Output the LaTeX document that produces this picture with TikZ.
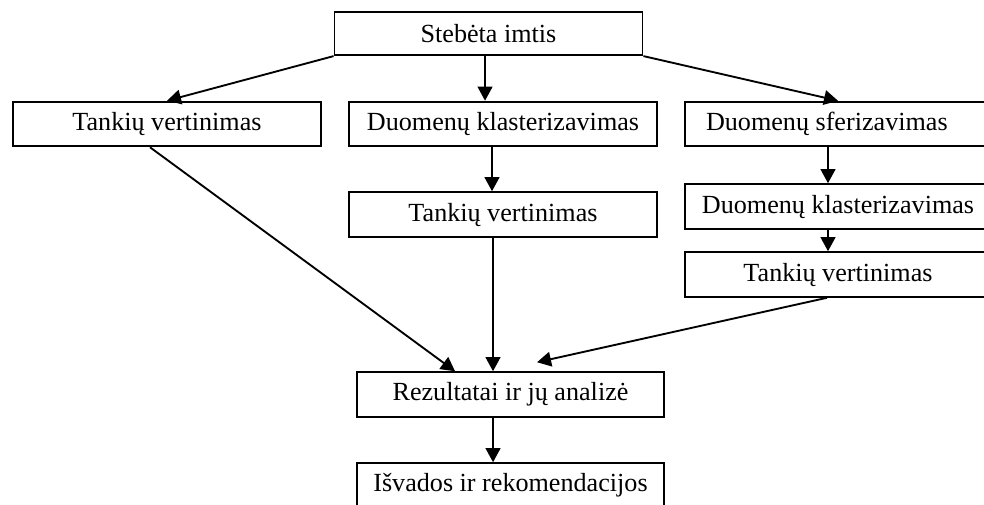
\documentclass[tikz,border=0pt]{standalone}
\usepackage{fontspec}
\setmainfont{Liberation Serif}
\usetikzlibrary{arrows.meta}
\begin{document}
\begin{tikzpicture}[x=0.75pt,y=-0.75pt,
  box/.style={draw,line width=1.4pt,rectangle,inner sep=0pt,minimum width=231pt,minimum height=33.5pt,font=\fontsize{19.6}{22}\selectfont},
  arr/.style={line width=1.4pt,-{Triangle[length=10.5pt,width=11pt]}}]
\useasboundingbox (0,0) rectangle (984,504);
\clip (0,0) rectangle (984,504);
\node[box,minimum height=32.5pt] (top) at (488.5,33.5) {Stebėta imtis};
\node[box] (b1) at (167,124) {Tankių vertinimas};
\node[box] (b2) at (503,124) {Duomenų klasterizavimas};
\node[box,minimum width=229.5pt] (b3) at (838,124) {\makebox[198pt][l]{Duomenų sferizavimas}};
\node[box] (b4) at (503,214.5) {Tankių vertinimas};
\node[box,minimum width=229.5pt] (b5) at (838,206.5) {Duomenų klasterizavimas};
\node[box,minimum width=229.5pt] (b6) at (838,274.5) {Tankių vertinimas};
\node[box,minimum width=230pt] (b7) at (510.5,394.5) {Rezultatai ir jų analizė};
\node[box,minimum width=230pt] (b8) at (510.5,485.5) {Išvados ir rekomendacijos};
\draw[arr] (top.south west) -- (b1.north);
\draw[arr] ([xshift=-2.6pt]top.south) -- ([xshift=-2.6pt]top.south |- b2.north);
\draw[arr] (top.south east) -- (b3.north);
\draw[arr] ([xshift=-8.25pt]b2.south) -- ([xshift=-8.25pt]b4.north);
\draw[arr] ([xshift=-7.5pt]b3.south) -- ([xshift=-7.5pt]b5.north);
\draw[arr] ([xshift=-7.5pt]b5.south) -- ([xshift=-7.5pt]b6.north);
\draw[arr] ([xshift=-12.75pt]b1.south) -- ([xshift=-41.6pt]b7.north);
\draw[arr] ([xshift=-7.5pt]b4.south) -- ([xshift=-7.5pt]b4.south |- b7.north);
\draw[arr] ([xshift=-8.25pt]b6.south) -- ([xshift=19.9pt,yshift=6.75pt]b7.north);
\draw[arr] ([xshift=-13.1pt]b7.south) -- ([xshift=-13.1pt]b8.north);
\end{tikzpicture}
\end{document}
